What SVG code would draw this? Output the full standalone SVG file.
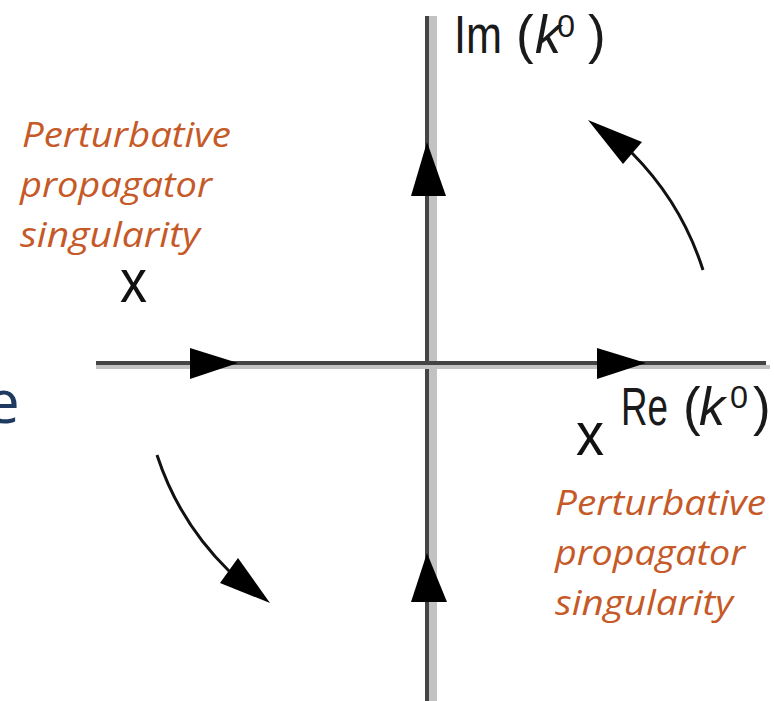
<svg xmlns="http://www.w3.org/2000/svg" width="774" height="701" viewBox="0 0 774 701">
<style>
.lbl{font-family:"Open Sans","Liberation Sans",sans-serif;font-style:italic;font-size:34px;fill:#C55A28}
.ax{font-family:"Liberation Sans",Arial,sans-serif;font-size:53px;fill:#1a1a1a}
.sup{font-family:"Liberation Sans",Arial,sans-serif;font-size:32px;fill:#1a1a1a}
.mk{font-family:"Liberation Sans",Arial,sans-serif;font-size:62px;fill:#111}
.head{fill:#000}
.crv{fill:none;stroke:#111;stroke-width:3}
</style>
<rect width="774" height="701" fill="#fff"/>
<text x="-14" y="423" font-family="Open Sans, Liberation Sans, sans-serif" font-size="60" fill="#1F3A60">e</text>
<g id="axes">
  <rect x="425" y="16" width="4" height="685" fill="#444"/>
  <rect x="429" y="16" width="8" height="685" fill="#c2c2c2"/>
  <rect x="96" y="361" width="670" height="4" fill="#444"/>
  <rect x="96" y="365" width="674" height="4" fill="#c2c2c2"/>
</g>
<g id="connectors">
  <polygon class="head" points="190,348 238,363 190,379"/>
  <polygon class="head" points="597,348 646,363 597,379"/>
  <polygon class="head" points="427,142 446,196 411,196"/>
  <polygon class="head" points="427,553 447,602 411,602"/>
  <path class="crv" d="M703,270 A292,292 0 0 0 632,153"/>
  <polygon class="head" points="588,120 642,142 623,164"/>
  <path class="crv" d="M157,455 A287,287 0 0 0 229,571"/>
  <polygon class="head" points="270,603 220,583 238,558"/>
</g>
<g id="label-im">
  <text class="ax" x="454" y="53" textLength="48" lengthAdjust="spacingAndGlyphs">Im</text>
  <text class="ax" x="516" y="53">(</text>
  <text class="ax" x="535" y="53" font-style="italic" textLength="26" lengthAdjust="spacingAndGlyphs">k</text>
  <text class="sup" x="557" y="37" textLength="18" lengthAdjust="spacingAndGlyphs">0</text>
  <text class="ax" x="588" y="53">)</text>
</g>
<g id="label-re">
  <text class="ax" x="621" y="425" textLength="47" lengthAdjust="spacingAndGlyphs">Re</text>
  <text class="ax" x="683" y="425">(</text>
  <text class="ax" x="699" y="425" font-style="italic" textLength="26" lengthAdjust="spacingAndGlyphs">k</text>
  <text class="sup" x="730" y="408" textLength="18" lengthAdjust="spacingAndGlyphs">0</text>
  <text class="ax" x="753" y="425">)</text>
</g>
<g id="sing-left">
  <text class="mk" x="120" y="302" textLength="27" lengthAdjust="spacingAndGlyphs">x</text>
  <text class="lbl" x="22" y="147" textLength="209" lengthAdjust="spacingAndGlyphs">Perturbative</text>
  <text class="lbl" x="20" y="197" textLength="192" lengthAdjust="spacingAndGlyphs">propagator</text>
  <text class="lbl" x="20" y="247" textLength="180" lengthAdjust="spacingAndGlyphs">singularity</text>
</g>
<g id="sing-right">
  <text class="mk" x="576" y="455" textLength="28" lengthAdjust="spacingAndGlyphs">x</text>
  <text class="lbl" x="555" y="515" textLength="211" lengthAdjust="spacingAndGlyphs">Perturbative</text>
  <text class="lbl" x="555" y="565" textLength="190" lengthAdjust="spacingAndGlyphs">propagator</text>
  <text class="lbl" x="555" y="615" textLength="178" lengthAdjust="spacingAndGlyphs">singularity</text>
</g>
</svg>
